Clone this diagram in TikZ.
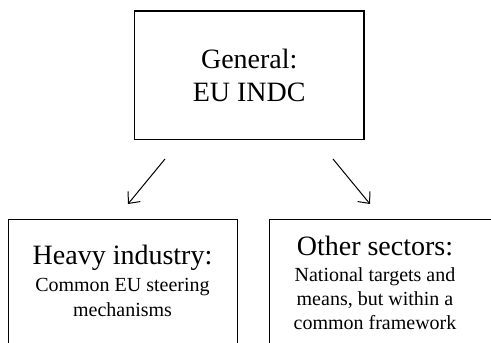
\documentclass[tikz,border=0pt]{standalone}
\usepackage{fontspec}
\setmainfont{Liberation Serif}
\usetikzlibrary{arrows.meta}
\newcommand{\headfnt}{\fontsize{28}{33}\selectfont}
\newcommand{\smallfnt}{\fontsize{20}{25}\selectfont}

\begin{document}
\begin{tikzpicture}[x=1pt, y=-1pt, >={Straight Barb[length=9pt,width=16pt]},
    box/.style={draw, line width=1.3pt, inner sep=0pt}]
    % Rahmen
    \useasboundingbox (0,0) rectangle (491,343);
    \clip (0,0) rectangle (491,343);

    % General
    \node[box, minimum width=229.5pt, minimum height=128.5pt, align=center, font=\headfnt] (general) at (249.25,75.25) {General:\\EU INDC};

    % Sektoren
    \node[box, minimum width=229pt, minimum height=160pt, anchor=north west] (heavy) at (8,219) {};
    \node[box, minimum width=240pt, minimum height=160pt, anchor=north west] (other) at (269,219) {};
    \node[anchor=north, align=center, font=\smallfnt, inner sep=0pt] (heavytext) at (122.5,245) {{\headfnt Heavy industry:}\\[2pt]Common EU steering\\mechanisms};
    \node[anchor=north, align=center, font=\smallfnt, inner sep=0pt] (othertext) at (375,236) {{\headfnt Other sectors:}\\[1pt]National targets and\\[-1pt]means, but within a\\[-1pt]common framework};

    % Pfeile
    \coordinate (l0) at (165,159);
    \coordinate (l1) at (128,204);
    \coordinate (r0) at (333,159);
    \coordinate (r1) at (370,204);
    \draw[->, line width=1pt] (l0) -- (l1);
    \draw[->, line width=1pt] (r0) -- (r1);
\end{tikzpicture}
\end{document}
